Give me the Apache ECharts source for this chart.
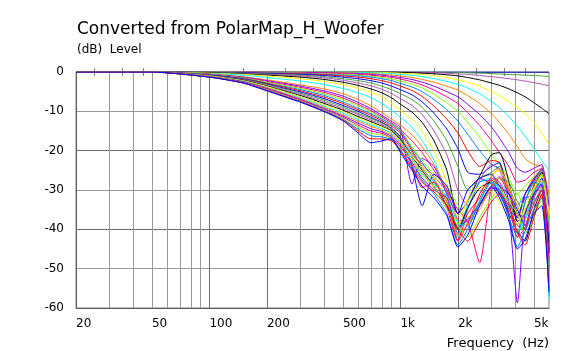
<!DOCTYPE html>
<html lang="en">
<head>
<meta charset="UTF-8">
<title>PolarMap_H_Woofer</title>
<script src="https://cdn.jsdelivr.net/npm/echarts@6/dist/echarts.min.js"></script>
<style>
    html, body { margin: 0; padding: 0; background: #fff; }
    #chart { width: 578px; height: 351px; }
</style>
</head>
<body>
<div id="chart"></div>
<script>
// frequency points (Hz)
const freqs = [20, 50, 100, 150, 200, 300, 400, 500, 600, 700, 800, 900, 1000, 1150, 1300, 1500, 1750, 2000, 2250, 2600, 3000, 3300, 3700, 4100, 4500, 5000, 5500, 6000];

// horizontal angles (deg)
const angles = [0, 5, 10, 15, 20, 25, 30, 35, 40, 45, 50, 55, 60, 65, 70, 75, 80, 85, 90, 95, 100, 105, 110, 115, 120, 125, 130, 135, 140, 145, 150, 155, 160, 165, 170, 175, 180];

// level (dB) for each angle, one value per frequency point
const lv000 = [0,0,0,0,0,0,0,0,0,0,0,0,0,0,0,0,0,0,0,0,0,0,0,0,0,0,0,0];
const lv005 = [0,0,0,0,0,0,0,0,0,0,0,0,0,0,0,0,0,-0.1,-0.2,-0.3,-0.4,-0.5,-0.6,-0.7,-0.8,-0.9,-1.0,-1.2];
const lv010 = [0,0,0,0,0,0,0,0,0,0,0,0,0,-0.1,-0.15,-0.2,-0.3,-0.5,-0.6,-0.9,-1.2,-1.4,-1.7,-2.0,-2.3,-2.7,-3.1,-3.5];
const lv015 = [0,0,0,0,0,0,0,0,0,0,0,0,-0.1,-0.2,-0.3,-0.45,-0.7,-1.0,-1.4,-2.0,-2.8,-3.4,-4.3,-5.3,-6.3,-7.8,-9.2,-10.6];
const lv020 = [0,0,0,0,0,0,0,0,0,0,-0.1,-0.2,-0.3,-0.45,-0.65,-0.9,-1.4,-2.0,-2.6,-3.6,-5.0,-6.0,-7.5,-9.0,-10.6,-12.8,-15.5,-18.5];
const lv025 = [0,0,0,0,0,0,0,0,-0.1,-0.2,-0.3,-0.4,-0.6,-0.85,-1.2,-1.7,-2.4,-3.1,-4.1,-5.5,-7.5,-9.0,-11.3,-13.8,-16.3,-19.5,-22.5,-25.0];
const lv030 = [0,0,0,0,0,0,-0.1,-0.2,-0.3,-0.4,-0.6,-0.8,-1.0,-1.4,-1.9,-2.6,-3.6,-4.6,-6.0,-8.0,-10.6,-12.8,-15.8,-19.0,-22.0,-23.5,-24.0,-31.0];
const lv035 = [0,0,0,0,0,-0.1,-0.2,-0.3,-0.4,-0.6,-0.8,-1.1,-1.4,-1.9,-2.6,-3.6,-5.0,-6.3,-8.2,-10.8,-14.0,-16.8,-20.5,-24.5,-25.5,-24.5,-23.5,-34.0];
const lv040 = [0,0,0,0,-0.1,-0.2,-0.3,-0.4,-0.6,-0.8,-1.1,-1.4,-1.8,-2.5,-3.3,-4.6,-6.3,-8.0,-10.3,-13.6,-17.5,-20.5,-24.0,-28.0,-27.5,-25.5,-24.5,-37.0];
const lv045 = [0,0,0,-0.1,-0.2,-0.3,-0.5,-0.6,-0.8,-1.1,-1.4,-1.8,-2.3,-3.1,-4.1,-5.7,-7.8,-10.0,-12.8,-16.5,-21.0,-23.5,-27.0,-31.0,-29.0,-26.5,-25.0,-40.0];
const lv050 = [0,0,0,-0.1,-0.2,-0.4,-0.6,-0.8,-1.0,-1.3,-1.7,-2.2,-2.9,-3.8,-5.0,-7.0,-9.6,-12.5,-15.8,-20.0,-23.5,-24.5,-29.0,-34.0,-31.0,-27.0,-25.5,-42.0];
const lv055 = [0,0,-0.1,-0.2,-0.3,-0.5,-0.7,-1.0,-1.3,-1.7,-2.2,-2.8,-3.6,-4.7,-6.2,-8.7,-12.0,-15.5,-20.0,-24.0,-22.5,-23.0,-30.0,-37.0,-31.0,-27.0,-25.0,-44.0];
const lv060 = [0,0,-0.1,-0.2,-0.4,-0.6,-0.9,-1.3,-1.7,-2.2,-2.8,-3.6,-4.5,-5.8,-7.6,-10.5,-14.5,-19.5,-25.5,-26.0,-24.0,-23.0,-33.0,-37.0,-31.0,-27.5,-24.5,-46.0];
const lv065 = [0,0,-0.1,-0.3,-0.5,-0.8,-1.2,-1.7,-2.2,-2.8,-3.6,-4.5,-5.5,-7.0,-9.0,-12.5,-17.5,-24.0,-30.0,-27.0,-25.5,-24.0,-30.5,-41.0,-33.0,-28.0,-25.0,-48.0];
const lv070 = [0,0,-0.2,-0.4,-0.6,-1.0,-1.5,-2.1,-2.8,-3.5,-4.4,-5.5,-6.8,-8.5,-10.8,-15.0,-21.0,-30.0,-34.0,-27.5,-23.5,-25.0,-31.0,-38.0,-40.0,-28.5,-24.5,-50.0];
const lv075 = [0,0,-0.2,-0.5,-0.8,-1.3,-1.9,-2.6,-3.4,-4.3,-5.3,-6.6,-8.2,-10.2,-12.8,-17.5,-25.0,-36.0,-33.0,-26.5,-21.0,-20.5,-28.0,-38.0,-36.0,-29.0,-25.5,-46.0];
const lv080 = [0,0,-0.3,-0.6,-1.0,-1.7,-2.4,-3.2,-4.1,-5.1,-6.3,-8.0,-9.8,-12.0,-15.0,-20.0,-28.0,-40.0,-32.0,-27.0,-26.0,-25.0,-29.0,-36.0,-38.0,-30.0,-26.0,-43.0];
const lv085 = [0,0,-0.4,-0.8,-1.4,-2.3,-3.2,-4.2,-5.3,-6.5,-8.0,-9.8,-11.5,-14.0,-17.5,-22.5,-31.0,-42.0,-33.5,-28.0,-27.0,-28.0,-31.0,-35.0,-40.0,-31.0,-27.0,-41.0];
const lv090 = [0,0,-0.5,-1.2,-2.0,-3.3,-4.3,-5.5,-7.0,-8.6,-10.3,-12.0,-13.5,-16.0,-19.0,-23.5,-30.0,-38.0,-39.0,-31.0,-26.5,-24.5,-30.0,-36.0,-37.0,-29.0,-26.0,-40.0];
const lv095 = [0,0,-0.6,-1.3,-2.2,-3.6,-4.8,-6.1,-7.7,-9.3,-11.0,-12.6,-14.2,-28.5,-22.0,-24.0,-31.0,-36.0,-33.0,-27.0,-28.5,-31.0,-35.0,-37.0,-32.0,-31.5,-28.0,-42.0];
const lv100 = [0,0,-0.6,-1.4,-2.4,-3.9,-5.2,-6.6,-8.2,-9.8,-11.4,-13.0,-14.6,-17.5,-20.5,-25.0,-30.0,-35.0,-38.0,-48.5,-29.0,-27.0,-31.0,-36.0,-37.0,-30.0,-27.5,-44.0];
const lv105 = [0,0,-0.7,-1.5,-2.6,-4.2,-5.6,-7.1,-8.6,-10.2,-11.8,-13.2,-14.8,-19.0,-22.5,-26.0,-29.0,-34.0,-37.0,-33.0,-27.0,-29.0,-33.0,-31.0,-35.0,-30.0,-26.0,-38.0];
const lv110 = [0,0,-0.7,-1.6,-2.8,-4.5,-6.0,-7.6,-9.2,-10.6,-12.0,-13.4,-15.0,-19.5,-23.0,-27.5,-32.0,-41.0,-35.0,-28.0,-27.5,-30.0,-37.0,-42.0,-33.0,-28.0,-29.0,-46.0];
const lv115 = [0,0,-0.8,-1.7,-2.9,-4.8,-6.4,-8.0,-9.6,-11.0,-12.4,-13.8,-15.5,-20.0,-24.0,-27.0,-33.0,-42.7,-36.0,-32.0,-27.5,-29.0,-35.0,-39.0,-40.0,-31.0,-29.0,-57.0];
const lv120 = [0,0,-0.8,-1.8,-3.1,-5.1,-6.8,-8.5,-10.0,-11.5,-12.8,-14.3,-16.5,-24.0,-34.0,-26.0,-29.0,-36.0,-30.0,-27.0,-26.0,-29.0,-31.0,-35.0,-39.0,-31.0,-27.0,-43.0];
const lv125 = [0,0,-0.9,-1.9,-3.2,-5.4,-7.2,-8.9,-10.5,-11.8,-13.0,-14.5,-16.8,-20.5,-24.5,-28.0,-33.0,-39.0,-38.0,-34.0,-30.0,-27.0,-28.0,-33.0,-36.0,-33.0,-29.5,-39.0];
const lv130 = [0,0,-0.9,-2.0,-3.4,-5.7,-7.6,-9.3,-10.8,-12.2,-13.4,-14.8,-17.0,-21.0,-23.5,-26.5,-30.5,-37.5,-38.0,-34.0,-29.0,-26.5,-30.0,-36.5,-39.0,-32.0,-28.5,-41.0];
const lv135 = [0,0,-1.0,-2.1,-3.6,-6.0,-8.0,-9.7,-11.3,-12.6,-13.8,-15.0,-17.2,-21.5,-25.0,-29.0,-34.0,-40.0,-34.5,-29.5,-28.0,-31.0,-36.0,-40.5,-43.0,-35.0,-30.0,-45.0];
const lv140 = [0,0,-1.0,-2.2,-3.7,-6.3,-8.4,-10.1,-11.7,-13.0,-14.0,-15.2,-17.5,-21.5,-24.0,-27.0,-32.5,-36.5,-33.0,-29.0,-30.5,-33.0,-37.0,-38.5,-34.5,-29.5,-27.5,-36.0];
const lv145 = [0,0,-1.1,-2.3,-3.9,-6.6,-8.7,-10.5,-12.1,-13.4,-14.4,-15.6,-17.8,-22.0,-26.0,-28.5,-31.5,-38.5,-39.0,-32.5,-28.0,-29.5,-34.5,-40.5,-37.5,-30.5,-28.0,-58.0];
const lv150 = [0,0,-1.1,-2.4,-4.0,-6.8,-9.0,-10.9,-12.5,-13.8,-14.8,-16.0,-18.0,-22.5,-25.5,-29.5,-33.0,-41.5,-39.0,-35.0,-29.0,-27.0,-30.0,-34.0,-38.0,-36.0,-31.0,-47.0];
const lv155 = [0,0,-1.2,-2.5,-4.2,-7.0,-9.3,-11.2,-13.0,-14.4,-15.2,-16.4,-18.5,-23.0,-27.0,-30.0,-32.0,-39.5,-37.5,-33.5,-29.5,-30.0,-36.0,-58.7,-36.0,-31.0,-28.5,-48.0];
const lv160 = [0,0,-1.2,-2.6,-4.3,-7.2,-9.5,-11.5,-13.5,-15.0,-15.6,-16.8,-19.0,-23.5,-29.4,-28.0,-34.5,-43.0,-38.5,-31.0,-27.0,-28.0,-33.5,-42.0,-39.5,-33.5,-30.0,-50.0];
const lv165 = [0,0,-1.2,-2.7,-4.5,-7.4,-9.7,-11.8,-14.0,-15.6,-16.0,-17.0,-19.4,-22.5,-26.5,-29.0,-35.0,-39.0,-42.0,-37.0,-32.0,-30.0,-33.0,-36.0,-41.0,-37.0,-32.0,-52.0];
const lv170 = [0,0,-1.3,-2.7,-4.6,-7.5,-9.8,-12.0,-14.5,-16.2,-16.5,-17.2,-19.8,-24.0,-27.5,-31.0,-36.0,-44.0,-40.0,-33.0,-28.0,-30.5,-37.0,-44.5,-40.5,-35.0,-32.0,-53.0];
const lv175 = [0,0,-1.3,-2.8,-4.7,-7.6,-10.0,-12.2,-15.0,-17.0,-17.0,-17.5,-20.0,-24.5,-28.0,-30.5,-34.0,-40.0,-43.0,-38.0,-33.0,-31.0,-34.0,-41.0,-44.0,-37.0,-31.0,-55.0];
const lv180 = [0,0,-1.3,-2.8,-4.8,-7.7,-10.1,-12.4,-15.5,-18.0,-17.5,-17.0,-20.5,-25.0,-29.0,-32.0,-36.5,-44.5,-41.5,-34.0,-29.0,-32.0,-38.0,-45.0,-42.5,-36.0,-34.0,-56.0];

const curves = [lv000, lv005, lv010, lv015, lv020, lv025, lv030, lv035, lv040, lv045, lv050, lv055, lv060,
    lv065, lv070, lv075, lv080, lv085, lv090, lv095, lv100, lv105, lv110, lv115, lv120, lv125, lv130,
    lv135, lv140, lv145, lv150, lv155, lv160, lv165, lv170, lv175, lv180];

// axis ticks
const gridFreqs = [30, 40, 50, 60, 70, 80, 90, 100, 200, 300, 400, 500, 600, 700, 800, 900, 1000, 2000, 3000, 4000, 5000];
const minorFreqs = [25, 35, 45, 150, 250, 350, 450, 1500, 2500, 3500, 4500];
const labelFreqs = [20, 50, 100, 200, 500, 1000, 2000, 5000];

const palette = ['#0000ff', '#40a040', '#b050b0', '#000000', '#ffff00', '#00ffff',
    '#ff8000', '#8000ff', '#ff0080', '#80ff00', '#0080ff', '#ff0000'];

const FONT = 'DejaVu Sans';
const darkGrid = '#6e6e6e';
const lightGrid = '#999999';

let chart = echarts.init(document.getElementById('chart'));

let series = curves.map(function (lv, i) {
    return {
        name: angles[i] + '°',
        type: 'line',
        xAxisIndex: 0,
        data: freqs.map(function (f, j) { return [f, lv[j]]; }),
        showSymbol: false,
        smooth: 0.2,
        lineStyle: { width: 1, color: palette[i % palette.length] },
        emphasis: { disabled: true },
        silent: true
    };
});

function minorAxis(pos) {
    return {
        type: 'log', logBase: 10, min: 20, max: 6000, position: pos,
        axisLine: { show: false },
        axisLabel: { show: false },
        splitLine: { show: false },
        axisTick: { show: true, inside: true, length: 4, customValues: minorFreqs,
            lineStyle: { color: '#808080' } }
    };
}

let option = {
    animation: false,
    backgroundColor: '#fff',
    title: {
        text: 'Converted from PolarMap_H_Woofer',
        left: 72, top: 16,
        textStyle: { fontFamily: FONT, fontSize: 17, fontWeight: 'normal', color: '#000' }
    },
    grid: {
        left: 76, right: 29, top: 72, bottom: 43,
        show: true, borderColor: '#808080', borderWidth: 1,
        containLabel: false, outerBoundsMode: 'none'
    },
    xAxis: [{
        type: 'log', logBase: 10, min: 20, max: 6000, position: 'bottom',
        axisLine: { show: true, onZero: false, lineStyle: { color: '#606060' } },
        axisTick: { show: false, customValues: gridFreqs },
        splitLine: {
            show: true,
            lineStyle: { width: 1, color: gridFreqs.map(function (f) {
                return (f === 100 || f === 200 || f === 1000 || f === 2000) ? darkGrid : lightGrid;
            }) }
        },
        axisLabel: {
            customValues: labelFreqs,
            formatter: function (v) { return v >= 1000 ? (v / 1000) + 'k' : String(v); },
            align: 'left', margin: 10,
            color: '#000', fontFamily: FONT, fontSize: 12
        }
    }, minorAxis('bottom'), minorAxis('top')],
    yAxis: {
        type: 'value', min: -60, max: 0, interval: 10,
        axisLine: { show: true, onZero: false, lineStyle: { color: '#606060' } },
        axisTick: { show: false },
        splitLine: {
            show: true,
            lineStyle: { width: 1, color: [darkGrid, lightGrid, darkGrid, lightGrid, darkGrid, lightGrid, darkGrid] }
        },
        axisLabel: { margin: 12, color: '#000', fontFamily: FONT, fontSize: 12 }
    },
    graphic: [{
        type: 'text', left: 77, top: 44,
        style: { text: '(dB)  Level', fill: '#000', font: '12px "DejaVu Sans"' }
    }, {
        type: 'text', right: 29, top: 337,
        style: { text: 'Frequency  (Hz)', fill: '#000', font: '13px "DejaVu Sans"' }
    }],
    series: series
};

chart.setOption(option);
</script>
</body>
</html>
